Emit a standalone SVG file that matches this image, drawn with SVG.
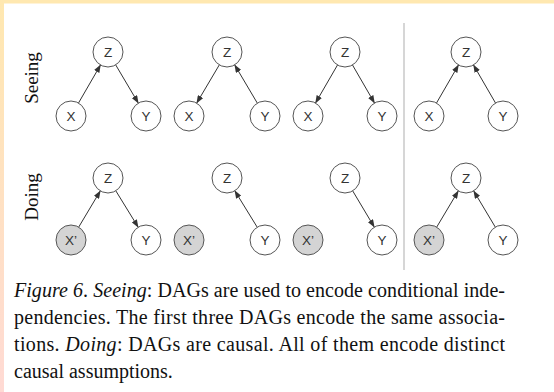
<svg xmlns="http://www.w3.org/2000/svg" width="554" height="392" viewBox="0 0 554 392">
<defs>
<linearGradient id="lg" x1="0" y1="0" x2="0" y2="1">
<stop offset="0" stop-color="#FFE8B0"/>
<stop offset="1" stop-color="#FFDAD4"/>
</linearGradient>
<marker id="ah" markerUnits="userSpaceOnUse" markerWidth="8" markerHeight="6" refX="7.5" refY="3" orient="auto">
<path d="M0,0 L8,3 L0,6 z" fill="#333"/>
</marker>
<style>
.n{fill:#fff;stroke:#555;stroke-width:1}
.g{fill:#d4d4d4;stroke:#555;stroke-width:1}
.t{font-family:"Liberation Sans",Arial,sans-serif;font-size:13.5px;fill:#333;text-anchor:middle;dominant-baseline:central}
.e{stroke:#333;stroke-width:1;fill:none;marker-end:url(#ah)}
.lab{font-family:"Liberation Serif","Times New Roman",serif;font-size:19px;fill:#111;text-anchor:middle}
.cap{font-family:"Liberation Serif","Times New Roman",serif;font-size:20px;fill:#111}
</style>
</defs>
<rect width="554" height="392" fill="#fff"/>
<rect width="554" height="3.5" fill="#FFE8B0"/>
<rect width="4" height="392" fill="url(#lg)"/>
<line x1="404" y1="23" x2="404" y2="270" stroke="#bbb" stroke-width="1.2"/>
<text class="lab" transform="translate(38,78) rotate(-90)">Seeing</text>
<text class="lab" transform="translate(38,197) rotate(-90)">Doing</text>
<g id="edges">
<line class="e" x1="78.5" y1="103" x2="100.5" y2="65"/>
<line class="e" x1="115.7" y1="64.9" x2="138.3" y2="103.1"/>
<line class="e" x1="219.3" y1="64.9" x2="196.7" y2="103.1"/>
<line class="e" x1="257.3" y1="103.1" x2="234.7" y2="64.9"/>
<line class="e" x1="337.5" y1="65" x2="315.5" y2="103"/>
<line class="e" x1="352.5" y1="65" x2="374.5" y2="103"/>
<line class="e" x1="436.5" y1="103" x2="458.5" y2="65"/>
<line class="e" x1="495.5" y1="103" x2="473.5" y2="65"/>
<line class="e" x1="78.7" y1="227.1" x2="100.3" y2="190.9"/>
<line class="e" x1="115.8" y1="190.8" x2="138.2" y2="227.2"/>
<line class="e" x1="257.2" y1="227.2" x2="234.8" y2="190.8"/>
<line class="e" x1="352.7" y1="190.9" x2="374.3" y2="227.1"/>
<line class="e" x1="436.7" y1="227.1" x2="458.3" y2="190.9"/>
<line class="e" x1="495.3" y1="227.1" x2="473.7" y2="190.9"/>
</g>
<g id="s1z"><circle class="n" cx="108" cy="52" r="15"/><text class="t" x="108" y="52">Z</text></g>
<g id="s1x"><circle class="n" cx="71" cy="116" r="15"/><text class="t" x="71" y="116">X</text></g>
<g id="s1y"><circle class="n" cx="146" cy="116" r="15"/><text class="t" x="146" y="116">Y</text></g>
<g id="s2z"><circle class="n" cx="227" cy="52" r="15"/><text class="t" x="227" y="52">Z</text></g>
<g id="s2x"><circle class="n" cx="189" cy="116" r="15"/><text class="t" x="189" y="116">X</text></g>
<g id="s2y"><circle class="n" cx="265" cy="116" r="15"/><text class="t" x="265" y="116">Y</text></g>
<g id="s3z"><circle class="n" cx="345" cy="52" r="15"/><text class="t" x="345" y="52">Z</text></g>
<g id="s3x"><circle class="n" cx="308" cy="116" r="15"/><text class="t" x="308" y="116">X</text></g>
<g id="s3y"><circle class="n" cx="382" cy="116" r="15"/><text class="t" x="382" y="116">Y</text></g>
<g id="s4z"><circle class="n" cx="466" cy="52" r="15"/><text class="t" x="466" y="52">Z</text></g>
<g id="s4x"><circle class="n" cx="429" cy="116" r="15"/><text class="t" x="429" y="116">X</text></g>
<g id="s4y"><circle class="n" cx="503" cy="116" r="15"/><text class="t" x="503" y="116">Y</text></g>
<g id="d1z"><circle class="n" cx="108" cy="178" r="15"/><text class="t" x="108" y="178">Z</text></g>
<g id="d1x"><circle class="g" cx="71" cy="240" r="15"/><text class="t" x="71" y="240">X’</text></g>
<g id="d1y"><circle class="n" cx="146" cy="240" r="15"/><text class="t" x="146" y="240">Y</text></g>
<g id="d2z"><circle class="n" cx="227" cy="178" r="15"/><text class="t" x="227" y="178">Z</text></g>
<g id="d2x"><circle class="g" cx="189" cy="240" r="15"/><text class="t" x="189" y="240">X’</text></g>
<g id="d2y"><circle class="n" cx="265" cy="240" r="15"/><text class="t" x="265" y="240">Y</text></g>
<g id="d3z"><circle class="n" cx="345" cy="178" r="15"/><text class="t" x="345" y="178">Z</text></g>
<g id="d3x"><circle class="g" cx="308" cy="240" r="15"/><text class="t" x="308" y="240">X’</text></g>
<g id="d3y"><circle class="n" cx="382" cy="240" r="15"/><text class="t" x="382" y="240">Y</text></g>
<g id="d4z"><circle class="n" cx="466" cy="178" r="15"/><text class="t" x="466" y="178">Z</text></g>
<g id="d4x"><circle class="g" cx="429" cy="240" r="15"/><text class="t" x="429" y="240">X’</text></g>
<g id="d4y"><circle class="n" cx="503" cy="240" r="15"/><text class="t" x="503" y="240">Y</text></g>
<g id="caption">
<text class="cap" x="14" y="297" textLength="491" lengthAdjust="spacing"><tspan font-style="italic">Figure 6</tspan>. <tspan font-style="italic">Seeing</tspan>: DAGs are used to encode conditional inde-</text>
<text class="cap" x="14" y="324" textLength="491" lengthAdjust="spacing">pendencies. The first three DAGs encode the same associa-</text>
<text class="cap" x="14" y="351" textLength="491" lengthAdjust="spacing">tions. <tspan font-style="italic">Doing</tspan>: DAGs are causal. All of them encode distinct</text>
<text class="cap" x="14" y="378">causal assumptions.</text>
</g>
</svg>
